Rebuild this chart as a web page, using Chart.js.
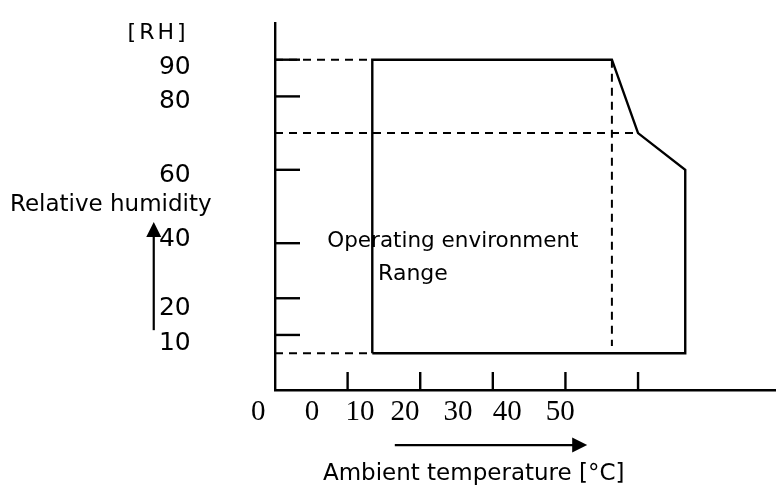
<!DOCTYPE html>
<html>
<head>
<meta charset="utf-8">
<script src="https://cdn.jsdelivr.net/npm/chart.js@4/dist/chart.umd.min.js"></script>
<style>
  html, body { margin: 0; padding: 0; background: #fff; }
  canvas { display: block; }
</style>
</head>
<body>
<canvas id="envChart" width="776" height="485"></canvas>
<script>
// temperature axis (deg C) and humidity axis (%RH)
var tempTicks = [10, 20, 30, 40, 50];
var tempLabels = ['0', '0', '10', '20', '30', '40', '50'];
var tempLabelAt = [-2.3, 5.1, 11.7, 17.9, 25.2, 32.0, 39.3];

var rhTicks = [90, 80, 60, 40, 25, 15];
var rhLabels = ['90', '80', '60', '40', '20', '10'];
var rhLabelAt = [86.1, 76.8, 56.7, 39.3, 20.4, 10.9];

// operating range outline
var rangeTemp = [13.4, 13.4, 46.4, 50, 56.5, 56.5, 13.4];
var rangeRH = [10, 90, 90, 70, 60, 10, 10];

// dashed guide lines (start, end)
var guideTemp = [[0, 13.4], [0, 50], [0, 13.4], [46.4, 46.4]];
var guideRH = [[90, 90], [70, 70], [10, 10], [90, 12]];

var toPoints = (xs, ys) => xs.map((v, i) => ({x: v, y: ys[i]}));

var datasets = [{
    label: 'range',
    data: toPoints(rangeTemp, rangeRH),
    showLine: true,
    borderColor: '#000',
    borderWidth: 2.4,
    pointRadius: 0,
    tension: 0
}];

for (var i = 0; i < guideTemp.length; i++) {
    datasets.push({
        label: 'guide' + i,
        data: toPoints(guideTemp[i], guideRH[i]),
        showLine: true,
        borderColor: '#000',
        borderWidth: 2,
        borderDash: [8, 6],
        pointRadius: 0
    });
}

var sans = '"DejaVu Sans", sans-serif';

var annot = {
    id: 'annot',
    afterDraw(chart) {
        var ctx = chart.ctx;
        var sx = chart.scales.x, sy = chart.scales.y;
        var px = (v) => sx.getPixelForValue(v);
        var py = (v) => sy.getPixelForValue(v);

        var line = (x1, y1, x2, y2) => {
            ctx.beginPath();
            ctx.moveTo(x1, y1);
            ctx.lineTo(x2, y2);
            ctx.stroke();
        }

        ctx.save();
        ctx.strokeStyle = '#000';
        ctx.fillStyle = '#000';
        ctx.lineWidth = 2.4;

        // inward tick marks
        tempTicks.forEach((t) => line(px(t), py(0), px(t), py(0) - 18));
        rhTicks.forEach((t) => line(px(0), py(t), px(0) + 25, py(t)));

        // tick labels
        ctx.textBaseline = 'alphabetic';
        ctx.font = '29px "Liberation Serif", serif';
        ctx.textAlign = 'center';
        tempLabels.forEach((l, i) => ctx.fillText(l, px(tempLabelAt[i]), py(-8.2)));

        ctx.font = '25px ' + sans;
        ctx.textAlign = 'right';
        rhLabels.forEach((l, i) => ctx.fillText(l, px(-11.6), py(rhLabelAt[i])));

        // titles
        ctx.textAlign = 'center';
        ctx.font = '22px ' + sans;
        ctx.letterSpacing = '3px';
        ctx.fillText('[RH]', px(-16.1), py(95.6));
        ctx.letterSpacing = '0px';

        ctx.textAlign = 'left';
        ctx.font = '23px ' + sans;
        ctx.fillText('Relative humidity', px(-36.5), py(48.8));
        ctx.fillText('Ambient temperature [°C]', px(6.6), py(-24.5));

        ctx.font = '21.5px ' + sans;
        ctx.fillText('Operating environment', px(7.2), py(38.9));
        ctx.font = '22px ' + sans;
        ctx.fillText('Range', px(14.2), py(30));

        // arrows
        ctx.lineWidth = 2.2;
        var ax = px(-16.7), ay0 = py(16.3), ay1 = py(45.8);
        line(ax, ay0, ax, ay1 + 14);
        ctx.beginPath();
        ctx.moveTo(ax, ay1);
        ctx.lineTo(ax - 7.5, ay1 + 15);
        ctx.lineTo(ax + 7.5, ay1 + 15);
        ctx.closePath();
        ctx.fill();

        var by = py(-15), bx0 = px(16.5), bx1 = px(43.0);
        line(bx0, by, bx1 - 14, by);
        ctx.beginPath();
        ctx.moveTo(bx1, by);
        ctx.lineTo(bx1 - 15, by - 7.5);
        ctx.lineTo(bx1 - 15, by + 7.5);
        ctx.closePath();
        ctx.fill();

        ctx.restore();
    }
};

var axisOpts = (min, max) => ({
    type: 'linear',
    min: min,
    max: max,
    ticks: {display: false},
    grid: {display: false, drawTicks: false},
    border: {display: true, color: '#000', width: 2.4}
});

new Chart(document.getElementById('envChart').getContext('2d'), {
    type: 'scatter',
    data: {datasets: datasets},
    options: {
        responsive: false,
        animation: false,
        layout: {padding: {left: 275, right: 0, top: 23, bottom: 95}},
        plugins: {legend: {display: false}, tooltip: {enabled: false}},
        scales: {
            x: axisOpts(0, 69),
            y: axisOpts(0, 100)
        }
    },
    plugins: [annot]
});
</script>
</body>
</html>
